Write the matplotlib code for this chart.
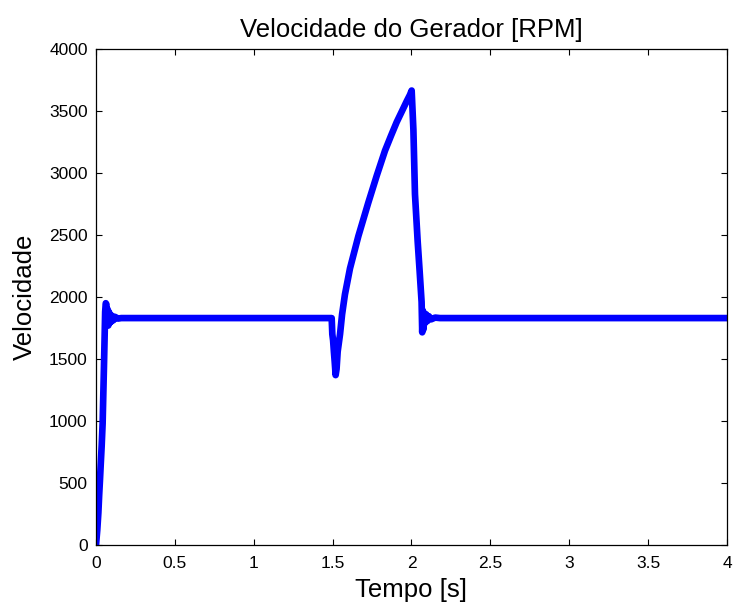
import matplotlib
matplotlib.use("Agg")
import matplotlib.pyplot as plt

# generator speed trace (time in s, speed in RPM)
tempo = [0.0, 0.008, 0.015, 0.020, 0.025, 0.030, 0.036, 0.042, 0.047, 0.051,
         0.055, 0.058, 0.062, 0.066, 0.070, 0.074, 0.078, 0.082, 0.086, 0.090,
         0.095, 0.10, 0.11, 0.12, 0.14, 0.16,
         1.494, 1.498, 1.503, 1.508, 1.513, 1.519, 1.525, 1.532, 1.547,
         1.560, 1.578, 1.61, 1.663, 1.726, 1.78, 1.832, 1.87, 1.906, 1.94,
         1.97, 1.99, 2.001, 2.012, 2.022, 2.039, 2.052, 2.064, 2.068,
         2.072, 2.076, 2.080, 2.086, 2.093, 2.10, 2.11, 2.125, 2.15, 2.18, 4.0]
velocidade = [0, 120, 260, 400, 520, 650, 800, 980, 1250, 1470,
              1700, 1880, 1950, 1940, 1800, 1900, 1770, 1880, 1790, 1860,
              1800, 1850, 1812, 1840, 1826, 1830,
              1830, 1700, 1650, 1560, 1480, 1370, 1420, 1560, 1700,
              1860, 2020, 2230, 2490, 2760, 2980, 3180, 3300, 3410, 3500,
              3580, 3630, 3665, 3350, 2830, 2450, 2200, 1960, 1715,
              1890, 1740, 1870, 1790, 1860, 1805, 1845, 1820, 1834, 1830, 1830]

xticks = [0, 0.5, 1, 1.5, 2, 2.5, 3, 3.5, 4]
xtick_labels = ["0", "0.5", "1", "1.5", "2", "2.5", "3", "3.5", "4"]
yticks = [0, 500, 1000, 1500, 2000, 2500, 3000, 3500, 4000]

plt.rcParams["font.family"] = ["Liberation Sans", "DejaVu Sans"]

fig = plt.figure(figsize=(7.34, 6.07), dpi=100)
ax = fig.add_axes([96 / 734, 1 - 545 / 607, 631 / 734, 496 / 607])

ax.plot(tempo, velocidade, color="#0000ff", linewidth=4.8,
        solid_joinstyle="round", solid_capstyle="round")

ax.set_xlim(0, 4)
ax.set_ylim(0, 4000)
ax.set_xticks(xticks)
ax.set_xticklabels(xtick_labels)
ax.set_yticks(yticks)

ax.tick_params(direction="in", length=4, width=0.8, labelsize=12.5,
               top=True, right=True, colors="black")
ax.tick_params(axis="x", pad=8)
ax.tick_params(axis="y", pad=6)
for s in ax.spines.values():
    s.set_linewidth(0.9)

ax.set_title("Velocidade do Gerador [RPM]", fontsize=18.5, pad=9)
ax.set_xlabel("Tempo [s]", fontsize=18.5, labelpad=5)
ax.set_ylabel("Velocidade", fontsize=18.5, labelpad=9)

fig.savefig("out.png", dpi=100, facecolor="white")
